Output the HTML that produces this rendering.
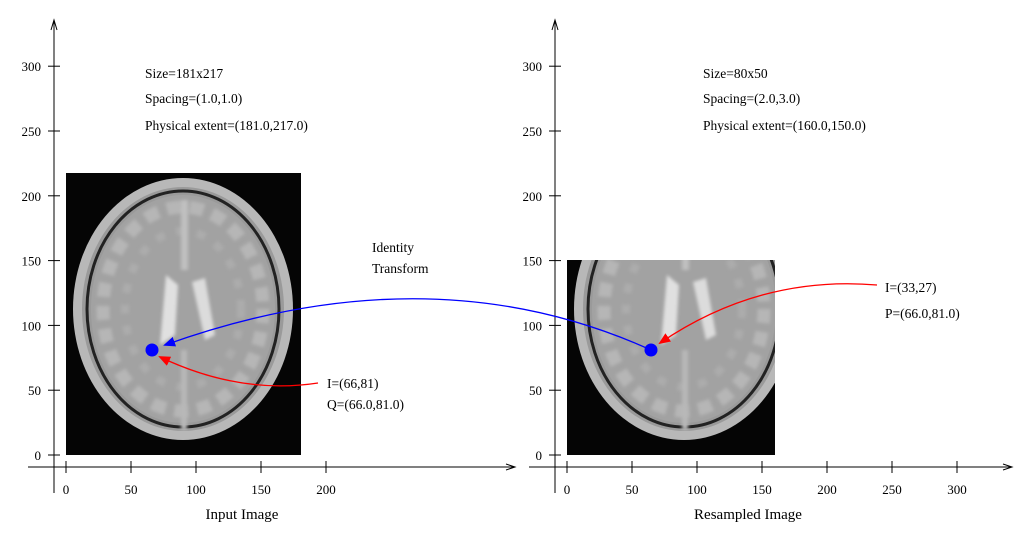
<!DOCTYPE html>
<html><head><meta charset="utf-8"><style>
html,body{margin:0;padding:0;background:#fff;}
svg text{font-family:"Liberation Serif",serif;font-size:13px;fill:#000;}
svg text.ann{font-size:13.5px;}
svg text.title{font-size:15px;}
</style></head><body>
<svg width="1025" height="547" viewBox="0 0 1025 547">
<defs>
<filter id="soft"><feGaussianBlur stdDeviation="1.5"/></filter>
<g id="brain">
  <ellipse cx="183" cy="309" rx="110" ry="131" fill="#b8b8b8"/>
  <ellipse cx="183" cy="309" rx="101" ry="122" fill="#9a9a9a"/>
  <ellipse cx="183" cy="309" rx="96" ry="118" fill="none" stroke="#222" stroke-width="3"/>
  <ellipse cx="183" cy="309" rx="92" ry="114" fill="#a2a2a2"/>
  <g filter="url(#soft)">
    <ellipse cx="183" cy="309" rx="80" ry="102" fill="none" stroke="#b6b6b6" stroke-width="13" stroke-dasharray="14 9"/>
    <ellipse cx="183" cy="309" rx="58" ry="78" fill="none" stroke="#acacac" stroke-width="8" stroke-dasharray="9 12"/>
    <path d="M166 275 L178 285 L175 335 L160 345 Z" fill="#e0e0e0"/>
    <path d="M192 282 L205 278 L215 335 L205 340 Z" fill="#dcdcdc"/>
    <rect x="181" y="200" width="7" height="70" fill="#c0c0c0"/>
    <rect x="181" y="350" width="6" height="80" fill="#b8b8b8"/>
  </g>
</g>
<clipPath id="clipL"><rect x="66" y="173" width="235" height="282"/></clipPath>
<clipPath id="clipR"><rect x="567" y="260" width="208" height="195"/></clipPath>
<marker id="arB" markerWidth="12" markerHeight="10" refX="10" refY="5" orient="auto" markerUnits="userSpaceOnUse"><path d="M0 0 L12 5 L0 10 Z" fill="#0000ff"/></marker>
<marker id="arR" markerWidth="12" markerHeight="10" refX="10" refY="5" orient="auto" markerUnits="userSpaceOnUse"><path d="M0 0 L12 5 L0 10 Z" fill="#ff0000"/></marker>
</defs>

<g>
  <rect x="66" y="173" width="235" height="282" fill="#050505"/>
  <g clip-path="url(#clipL)"><use href="#brain"/></g>
</g>
<g>
  <rect x="567" y="260" width="208" height="195" fill="#050505"/>
  <g clip-path="url(#clipR)"><use href="#brain" transform="translate(501,0)"/></g>
</g>

<g id="axesL" stroke="#000" stroke-width="1"></g>
<g id="axesR" stroke="#000" stroke-width="1"></g>

<text class="ann" x="145" y="78">Size=181x217</text>
<text class="ann" x="145" y="103">Spacing=(1.0,1.0)</text>
<text class="ann" x="145" y="130">Physical extent=(181.0,217.0)</text>
<text class="ann" x="703" y="78">Size=80x50</text>
<text class="ann" x="703" y="103">Spacing=(2.0,3.0)</text>
<text class="ann" x="703" y="130">Physical extent=(160.0,150.0)</text>
<text class="ann" x="372" y="252">Identity</text>
<text class="ann" x="372" y="273">Transform</text>
<text class="ann" x="327" y="388">I=(66,81)</text>
<text class="ann" x="327" y="409">Q=(66.0,81.0)</text>
<text class="ann" x="885" y="292">I=(33,27)</text>
<text class="ann" x="885" y="318">P=(66.0,81.0)</text>
<text class="title" x="242" y="519" text-anchor="middle">Input Image</text>
<text class="title" x="748" y="519" text-anchor="middle">Resampled Image</text>

<path d="M651 350 Q430 250 165 345" fill="none" stroke="#0000ff" stroke-width="1.3" marker-end="url(#arB)"/>
<path d="M318 383 Q240 395 160 357" fill="none" stroke="#ff0000" stroke-width="1.3" marker-end="url(#arR)"/>
<path d="M877 285 Q760 275 660 343" fill="none" stroke="#ff0000" stroke-width="1.3" marker-end="url(#arR)"/>
<circle cx="152" cy="350" r="6.5" fill="#0000ff"/>
<circle cx="651" cy="350" r="6.5" fill="#0000ff"/>

<script>
const xTicksL = [0, 50, 100, 150, 200];
const xTicksR = [0, 50, 100, 150, 200, 250, 300];
const yTicks = [0, 50, 100, 150, 200, 250, 300];
const NS = 'http://www.w3.org/2000/svg';
function mk(tag, attrs, parent){const e=document.createElementNS(NS,tag);for(const k in attrs)e.setAttribute(k,attrs[k]);parent.appendChild(e);return e;}
function drawAxes(gid, yAxisX, x0, xEnd, xTicks){
  const g=document.getElementById(gid);
  const sx=v=>x0+v*1.3, sy=v=>455-v*1.296;
  const xa=mk('line',{x1:yAxisX-26,y1:467,x2:xEnd,y2:467},g);
  
  
  mk('path',{d:`M${xEnd-9} 464 L${xEnd} 467 L${xEnd-9} 470`,fill:'none'},g);
  const ya=mk('line',{x1:yAxisX,y1:20,x2:yAxisX,y2:493},g);
  
  
  mk('path',{d:`M${yAxisX-3} 30 L${yAxisX} 20 L${yAxisX+3} 30`,fill:'none'},g);
  xTicks.forEach(v=>{
    const x=sx(v);
    mk('line',{x1:x,y1:461,x2:x,y2:473},g);
    const t=mk('text',{x:x,y:494,'text-anchor':'middle',stroke:'none'},g);
    t.textContent=v;
    
    
  });
  yTicks.forEach(v=>{
    const y=sy(v);
    mk('line',{x1:yAxisX-6,y1:y,x2:yAxisX+6,y2:y},g);
    const t=mk('text',{x:yAxisX-13,y:y+5,'text-anchor':'end',stroke:'none'},g);
    t.textContent=v;
    
    
  });
}
drawAxes('axesL',54,66,515,xTicksL);
drawAxes('axesR',555,567,1012,xTicksR);
</script>
</svg>
</body></html>
